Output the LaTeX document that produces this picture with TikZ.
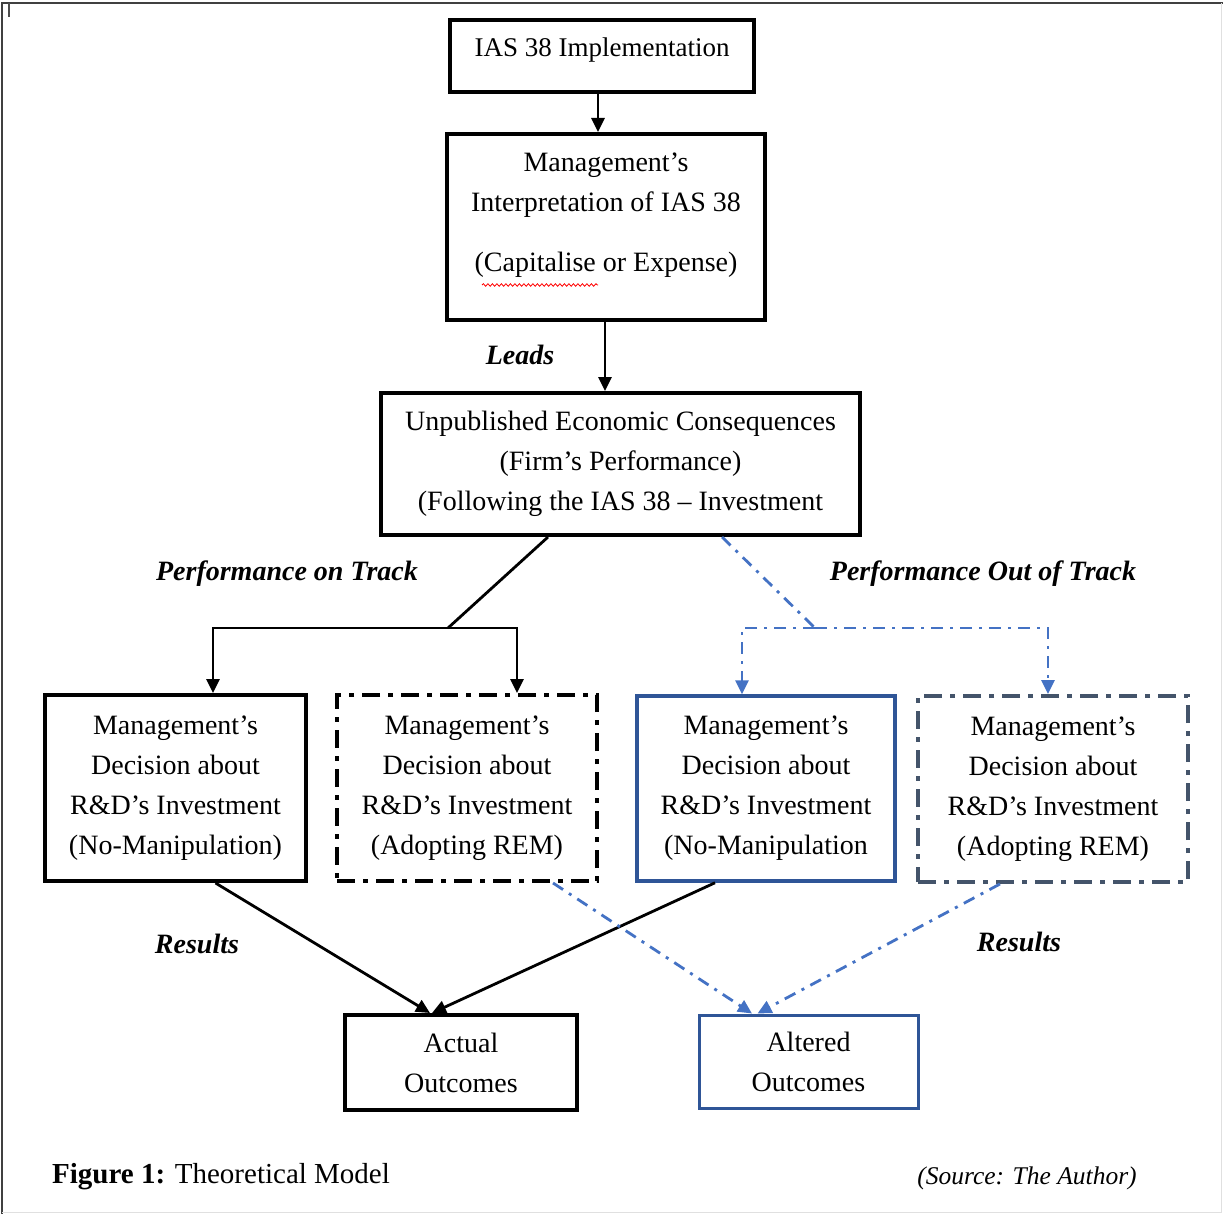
\documentclass[tikz,border=0pt]{standalone}
\usepackage{fontspec}
\setmainfont{Liberation Serif}
\usetikzlibrary{arrows.meta,decorations.pathmorphing,calc}
\definecolor{boxblue}{HTML}{2F5597}
\definecolor{linkblue}{HTML}{4472C4}
\definecolor{slate}{HTML}{44546A}
\tikzset{
  boxtext/.style={font=\fontsize{28}{40}\selectfont, align=center},
  solidbox/.style={draw, line width=4pt, inner sep=0pt, boxtext},
  dashbox/.style={solidbox, dash pattern=on 18pt off 8pt on 5pt off 8pt},
  conn/.style={line width=2.8pt, line join=miter},
  arr/.style={conn, -{Triangle[length=14pt,width=13pt]}},
  bluedash/.style={conn, linkblue, dash pattern=on 12pt off 7pt on 3pt off 7pt},
  bluearr/.style={arr, bluedash},
  tag/.style={font=\fontsize{28}{34}\selectfont\bfseries\itshape, inner sep=0pt},
}
\begin{document}
\begin{tikzpicture}[x=1pt,y=-1pt]
\useasboundingbox (0,0) rectangle (1223,1214);

% page frame
\draw[line width=2pt, black!75] (2,1214) -- (2,3) -- (1223,3);
\draw[line width=1pt, black!12] (1221.5,3) -- (1221.5,1212.5) -- (2,1212.5);
\draw[line width=1.2pt, black!70] (9,3) -- (9,17);

% top chain
\node[solidbox, minimum width=304pt, minimum height=72pt] (impl) at (602,56) {};
\node[boxtext, font=\fontsize{27}{40}\selectfont] (implT) at (602,50) {IAS 38 Implementation};

\node[solidbox, minimum width=318pt, minimum height=186pt] (interp) at (606,227) {};
\node[boxtext] (interpT) at (606,215) {Management’s\\Interpretation of IAS 38\\[20pt](Capitalise or Expense)};
\draw[red, line width=0.8pt, decorate, decoration={snake, amplitude=1.3pt, segment length=4.5pt}]
  (482,285) -- (598,285);

\node[solidbox, minimum width=479pt, minimum height=142pt] (econ) at (620.5,464)
  {Unpublished Economic Consequences\\(Firm’s Performance)\\(Following the IAS 38 – Investment};

\draw[arr] ([xshift=-4pt]impl.south) -- ([xshift=-8pt]interp.north);
\draw[arr] ([xshift=-1pt]interp.south) -- ([xshift=-15.5pt]econ.north);
\node[tag] (leads) at (520,355) {Leads};

% decision boxes
\node[solidbox, minimum width=261pt, minimum height=186pt] (noman) at (175.5,788)
  {Management’s\\Decision about\\R\&D’s Investment\\(No-Manipulation)};
\node[dashbox, minimum width=260pt, minimum height=186pt] (rem) at (467,788)
  {Management’s\\Decision about\\R\&D’s Investment\\(Adopting REM)};
\node[solidbox, draw=boxblue, line width=3.5pt, minimum width=258pt, minimum height=185pt] (nomanB) at (766,788.5)
  {Management’s\\Decision about\\R\&D’s Investment\\(No-Manipulation};
\node[dashbox, draw=slate, minimum width=270pt, minimum height=186pt] (remB) at (1053,789)
  {Management’s\\Decision about\\R\&D’s Investment\\(Adopting REM)};

% performance on track
\coordinate (onT) at (448,628);
\coordinate (barL) at (213,628);
\coordinate (barR) at (517,628);
\draw[conn] ([xshift=-72.5pt]econ.south) -- (onT);
\draw[arr] (onT) -| (barL |- noman.north);
\draw[arr] (onT) -| (barR |- rem.north);
\node[tag] (ontrack) at (287,574) {Performance on Track};

% performance out of track
\coordinate (offT) at (815,628);
\coordinate (barBL) at (742,628);
\coordinate (barBR) at (1048,628);
\draw[bluedash] ([xshift=101.5pt]econ.south) -- (offT);
\draw[bluearr] (offT) -| (barBL |- nomanB.north);
\draw[bluearr] (offT) -| (barBR |- remB.north);
\node[tag] (offtrack) at (983,574) {Performance Out of Track};

% outcomes
\node[solidbox, minimum width=232pt, minimum height=95pt] (actual) at (461,1062.5) {Actual\\Outcomes};
\node[solidbox, draw=boxblue, line width=3pt, minimum width=219pt, minimum height=93pt] (altered) at (808.5,1061.5) {Altered\\Outcomes};

\draw[arr] ([xshift=40pt]noman.south) -- ([xshift=-31pt]actual.north);
\draw[arr] ([xshift=-51pt]nomanB.south) -- ([xshift=-29pt]actual.north);
\draw[bluearr] ([xshift=86pt]rem.south) -- ([xshift=-56.5pt]altered.north);
\draw[bluearr] ([xshift=-53pt]remB.south) -- ([xshift=-51pt]altered.north);

\node[tag] (resL) at (197,944) {Results};
\node[tag] (resR) at (1019,942) {Results};

% caption
\node[anchor=west, font=\fontsize{29}{34}\selectfont, inner sep=0pt] (cap) at (52,1177)
  {\textbf{Figure 1:} Theoretical Model};
\node[font=\fontsize{25.5}{30}\selectfont\itshape, inner sep=0pt] (src) at (1027,1178)
  {(Source: The Author)};
\end{tikzpicture}
\end{document}
